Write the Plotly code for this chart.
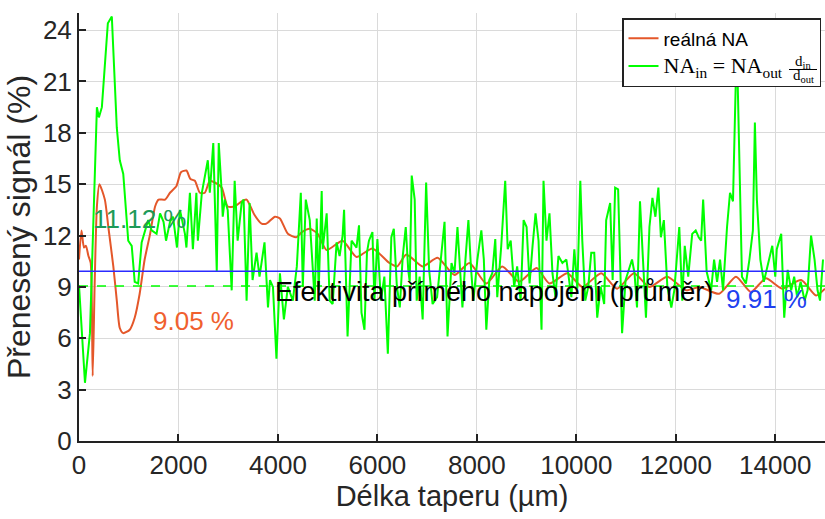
import plotly.graph_objects as go

# ---------------- data ----------------
real_x = [0, 50, 100, 140, 190, 235, 275, 315, 360, 410, 520, 590, 690, 760, 820, 890, 1020, 1120,
          1220, 1320, 1430, 1530, 1600, 1730, 1830, 1960, 2050, 2160, 2240, 2330, 2430, 2530, 2630,
          2730, 2870, 2990, 3130, 3270, 3370, 3530, 3670, 3770, 3940, 4040, 4200, 4370, 4480, 4640,
          4800, 4980, 5300, 5580, 5900, 6240, 6400, 6580, 6910, 7210, 7550, 7850, 8190, 8510, 8850,
          9200, 9460, 9820, 10120, 10500, 10820, 11160, 11470, 11830, 12210, 12470, 12870, 13210,
          13510, 13810, 14140, 14520, 14820, 15000]
real_y = [10.6, 12.3, 11.3, 11.4, 10.8, 10.4, 3.8, 9.2, 13.7, 15.0, 14.1, 12.5, 10.2, 8.2, 6.6, 6.3,
          6.5, 7.2, 8.6, 10.6, 12.1, 13.7, 14.1, 14.1, 14.5, 14.9, 15.7, 15.8, 15.3, 15.2, 14.5, 14.5,
          15.2, 15.1, 14.8, 13.7, 13.7, 14.0, 14.1, 13.2, 12.7, 12.7, 13.1, 13.0, 12.1, 11.9, 12.2,
          12.4, 12.1, 11.15, 11.7, 10.75, 11.25, 10.4, 10.2, 10.9, 10.2, 10.7, 9.7, 10.4, 9.2, 10.2,
          9.3, 10.1, 9.2, 9.8, 9.0, 9.8, 8.9, 9.8, 9.0, 9.6, 8.8, 9.0, 8.6, 9.6, 8.7, 9.5, 8.9, 9.4,
          8.5, 8.9]

geo_x = [0, 120, 220, 360, 400, 460, 580, 660, 760, 820, 890, 990, 1060, 1120, 1190, 1260, 1390,
         1460, 1560, 1630, 1700, 1750, 1830, 1890, 1970, 2030, 2130, 2160, 2230, 2290, 2360, 2390,
         2470, 2590, 2630, 2700, 2770, 2810, 2870, 2890, 2930, 2990, 3070, 3130, 3190, 3270, 3310,
         3370, 3430, 3490, 3570, 3630, 3730, 3800, 3840, 3900, 3970, 4040, 4120, 4200, 4300, 4380,
         4460, 4500, 4560, 4640, 4740, 4780, 4820, 4880, 4900, 4980, 5040, 5100, 5180, 5240, 5300,
         5330, 5400, 5480, 5580, 5630, 5680, 5740, 5790, 5830, 5900, 5940, 6000, 6070, 6140, 6210,
         6280, 6330, 6390, 6450, 6510, 6570, 6620, 6650, 6690, 6750, 6790, 6850, 6910, 6980, 7040,
         7110, 7200, 7280, 7350, 7410, 7490, 7550, 7610, 7660, 7710, 7770, 7830, 7880, 7930, 8010,
         8090, 8140, 8190, 8250, 8310, 8370, 8410, 8490, 8570, 8620, 8680, 8750, 8810, 8880, 8940,
         9000, 9060, 9120, 9180, 9240, 9300, 9340, 9400, 9460, 9520, 9580, 9640, 9720, 9800, 9900,
         9960, 10020, 10080, 10120, 10180, 10240, 10300, 10360, 10420, 10490, 10560, 10600, 10680,
         10730, 10780, 10840, 10920, 10990, 11060, 11120, 11170, 11220, 11280, 11340, 11400, 11470,
         11530, 11590, 11650, 11700, 11760, 11830, 11910, 11970, 12070, 12130, 12180, 12250, 12330,
         12400, 12460, 12510, 12550, 12620, 12710, 12770, 12830, 12890, 12950, 13030, 13090, 13150,
         13210, 13240, 13330, 13410, 13480, 13550, 13590, 13630, 13700, 13770, 13840, 13940, 14000,
         14030, 14120, 14180, 14250, 14320, 14380, 14440, 14510, 14590, 14650, 14720, 14790, 14850,
         14900, 14960]
geo_y = [9.1, 3.4, 6.3, 19.5, 18.9, 19.5, 24.4, 24.8, 18.3, 16.4, 15.6, 11.7, 11.4, 9.3, 9.2, 11.6,
         12.9, 12.3, 12.1, 13.3, 12.8, 11.7, 12.8, 13.1, 11.3, 13.5, 12.1, 11.3, 14.5, 11.2, 14.5,
         11.7, 14.5, 16.4, 14.5, 17.4, 9.9, 17.4, 14.5, 13.1, 14.1, 13.5, 8.8, 15.2, 11.7, 13.9, 14.1,
         8.2, 13.9, 9.4, 11.0, 9.6, 11.6, 7.8, 9.4, 9.0, 4.8, 9.8, 7.1, 9.0, 8.2, 10.2, 14.5, 9.0,
         14.1, 12.9, 8.2, 13.0, 8.8, 14.6, 11.2, 13.3, 8.2, 8.0, 11.6, 10.8, 12.0, 13.5, 6.1, 11.7,
         11.3, 12.6, 7.5, 6.5, 11.0, 11.7, 12.2, 8.2, 11.8, 8.2, 9.6, 5.1, 11.9, 12.4, 9.1, 7.8, 10.8,
         12.5, 10.0, 9.3, 15.5, 14.1, 8.2, 9.6, 7.1, 15.1, 10.0, 8.0, 8.4, 10.8, 12.8, 6.1, 10.4, 9.8,
         12.5, 10.1, 7.8, 10.6, 12.9, 10.2, 8.2, 10.6, 12.3, 10.6, 6.5, 9.4, 9.8, 11.8, 8.4, 11.4,
         15.2, 11.2, 11.7, 9.0, 10.2, 8.2, 12.9, 12.5, 9.2, 11.4, 13.3, 11.7, 6.5, 15.2, 11.7, 13.3,
         9.8, 8.4, 10.8, 10.4, 10.6, 8.4, 11.2, 8.9, 15.2, 11.7, 8.2, 9.0, 11.0, 11.0, 7.2, 9.0, 8.0,
         12.9, 13.9, 9.4, 14.8, 14.7, 6.3, 9.4, 10.0, 10.6, 9.8, 7.8, 14.0, 10.2, 7.2, 12.5, 14.2,
         13.1, 14.8, 11.9, 12.9, 9.0, 7.8, 8.8, 12.5, 8.2, 11.4, 9.6, 12.1, 12.3, 11.9, 11.7, 14.1,
         9.9, 8.8, 10.6, 9.3, 10.6, 8.8, 12.5, 14.5, 14.0, 21.5, 21.5, 9.6, 9.2, 10.6, 12.3, 18.6,
         14.1, 10.6, 9.3, 10.2, 11.4, 9.6, 11.2, 12.1, 7.2, 10.0, 8.8, 9.6, 8.4, 9.3, 8.2, 8.8, 12.0,
         10.6, 8.8, 8.2, 10.6]

mean_geo = 9.91     # blue line
mean_direct = 9.05  # dashed green line
x_span = [0, 15000]

x_ticks = [0, 2000, 4000, 6000, 8000, 10000, 12000, 14000]
x_tick_labels = ["0", "2000", "4000", "6000", "8000", "10000", "12000", "14000"]
y_ticks = [0, 3, 6, 9, 12, 15, 18, 21, 24]

ORANGE = "#e4572a"
LIME = "#00ff00"
BLUE = "#2b2bff"
SANS = "Liberation Sans, Arial, sans-serif"
SERIF = "Liberation Serif, Times New Roman, serif"

fig = go.Figure()
fig.add_trace(go.Scatter(x=real_x, y=real_y, mode="lines", name="reálná NA",
                         line=dict(color=ORANGE, width=2, shape="spline", smoothing=0.6)))
fig.add_trace(go.Scatter(x=geo_x, y=geo_y, mode="lines",
                         name=("<span style='font-family:Liberation Serif;font-size:22px'>NA<sub>in</sub> = NA<sub>out</sub></span>"
                               "<span style='color:rgba(0,0,0,0)'>d00</span>"),
                         line=dict(color=LIME, width=2)))
fig.add_trace(go.Scatter(x=x_span, y=[mean_geo, mean_geo], mode="lines", showlegend=False,
                         line=dict(color=BLUE, width=1.5)))
fig.add_trace(go.Scatter(x=x_span, y=[mean_direct, mean_direct], mode="lines", showlegend=False,
                         line=dict(color=LIME, width=1.5, dash="dash")))

ann_font = dict(family=SANS, size=26)
fig.add_annotation(x=1225, y=12.96, text="11.12 %", showarrow=False,
                   font=dict(ann_font, color="#1e9a58"))
fig.add_annotation(x=2310, y=7.0, text="9.05 %", showarrow=False,
                   font=dict(ann_font, color="#f0602e"))
fig.add_annotation(x=13830, y=8.3, text="9.91 %", showarrow=False,
                   font=dict(ann_font, color="#2040f0"))
fig.add_annotation(x=8350, y=8.7, text="Efektivita přímého napojení (průměr)", showarrow=False,
                   font=dict(family=SANS, size=27, color="black"))


def px_x(p):
    return (p - 79) / 746


def px_y(p):
    return (441 - p) / 428


# fraction d_in / d_out in the legend entry
fig.add_annotation(xref="paper", yref="paper", x=px_x(803), y=px_y(62), xanchor="center",
                   yanchor="middle", text="d<sub>in</sub>", showarrow=False,
                   font=dict(family=SERIF, size=15, color="black"))
fig.add_annotation(xref="paper", yref="paper", x=px_x(803), y=px_y(76.5), xanchor="center",
                   yanchor="middle", text="d<sub>out</sub>", showarrow=False,
                   font=dict(family=SERIF, size=15, color="black"))
fig.add_annotation(xref="paper", yref="paper", x=px_x(803), y=px_y(69), xanchor="center",
                   yanchor="middle", text=" ", showarrow=False, width=28, height=1,
                   bgcolor="black", borderpad=0, borderwidth=0, font=dict(size=1))

axis_common = dict(showgrid=True, gridcolor="#dadada", gridwidth=1, zeroline=False,
                   showline=True, linecolor="#222", linewidth=2,
                   ticks="inside", ticklen=7, tickwidth=1.5, tickcolor="#222",
                   tickfont=dict(family=SANS, size=26, color="#262626"))

fig.update_layout(
    width=825, height=519,
    margin=dict(l=79, r=0, t=13, b=78),
    paper_bgcolor="white", plot_bgcolor="white",
    xaxis=dict(axis_common, range=[0, 15000], tickvals=x_ticks, ticktext=x_tick_labels,
               title=dict(text="Délka taperu (µm)", font=dict(family=SANS, size=29, color="#262626"),
                          standoff=6)),
    yaxis=dict(axis_common, range=[0, 25], tickvals=y_ticks,
               title=dict(text="Přenesený signál (%)", font=dict(family=SANS, size=32, color="#262626"),
                          standoff=3)),
    legend=dict(x=px_x(821), y=px_y(18), xanchor="right", yanchor="top",
                bgcolor="white", bordercolor="#222", borderwidth=1.5,
                font=dict(family=SANS, size=19, color="black"),
                itemwidth=30, tracegroupgap=0),
    showlegend=True,
)

fig.write_html("out.html")
